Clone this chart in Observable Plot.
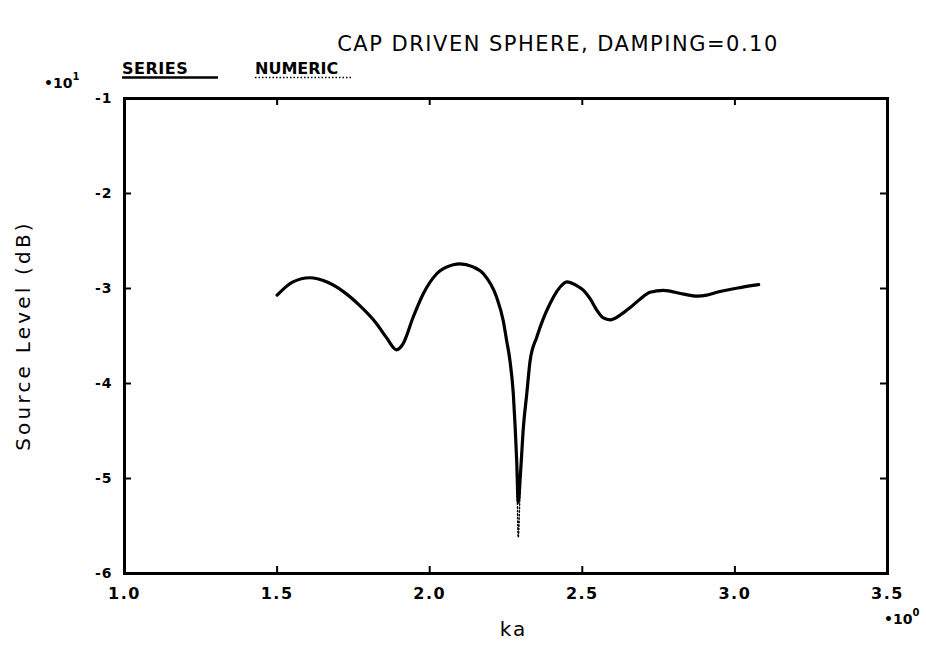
<!DOCTYPE html>
<html>
<head>
<meta charset="utf-8">
<script src="https://cdn.jsdelivr.net/npm/d3@7"></script>
<script src="https://cdn.jsdelivr.net/npm/@observablehq/plot@0.6"></script>
<style>
  html, body { margin: 0; padding: 0; background: #fff; }
  #chart svg { display: block; }
  #chart svg g[aria-label="x-axis tick label"] text { letter-spacing: 1.5px; }
  #chart svg g[aria-label="y-axis tick label"] text { letter-spacing: 1px; }
</style>
</head>
<body>
<div id="chart"></div>
<script>
// ---- data (source level in units of 10 dB, as labeled on the axis) ----
const titleText = "CAP DRIVEN SPHERE, DAMPING=0.10";
const xLabel = "ka";
const yLabel = "Source Level (dB)";
const legendNames = ["SERIES", "NUMERIC"];
const xTicks = [1.0, 1.5, 2.0, 2.5, 3.0, 3.5];
const yTicks = [-1, -2, -3, -4, -5, -6];
const xInnerTicks = [1.5, 2.0, 2.5, 3.0];
const yInnerTicks = [-2, -3, -4, -5];

const ka = [1.500, 1.552, 1.607, 1.662, 1.716, 1.771, 1.826, 1.859, 1.891, 1.913,
            1.946, 1.979, 2.023, 2.077, 2.099, 2.140, 2.176, 2.219, 2.241, 2.252,
            2.263, 2.274, 2.280, 2.285, 2.290, 2.298, 2.307, 2.318, 2.329, 2.351,
            2.394, 2.438, 2.449, 2.482, 2.504, 2.526, 2.548, 2.569, 2.591, 2.624,
            2.657, 2.690, 2.722, 2.766, 2.832, 2.876, 2.908, 2.941, 3.018, 3.078];
const seriesLevel = [-3.07, -2.93, -2.887, -2.93, -3.03, -3.18, -3.37, -3.52, -3.645, -3.58,
            -3.30, -3.055, -2.845, -2.75, -2.74, -2.77, -2.845, -3.09, -3.34, -3.547,
            -3.76, -4.11, -4.46, -4.81, -5.25, -4.92, -4.46, -4.11, -3.76, -3.51,
            -3.16, -2.95, -2.93, -2.97, -3.02, -3.11, -3.23, -3.31, -3.33, -3.28,
            -3.20, -3.11, -3.04, -3.02, -3.06, -3.08, -3.07, -3.04, -2.99, -2.96];
const numericLevel = [-3.07, -2.93, -2.887, -2.93, -3.03, -3.18, -3.37, -3.52, -3.645, -3.58,
            -3.30, -3.055, -2.845, -2.75, -2.74, -2.77, -2.845, -3.09, -3.34, -3.547,
            -3.76, -4.11, -4.46, -4.81, -5.62, -4.92, -4.46, -4.11, -3.76, -3.51,
            -3.16, -2.95, -2.93, -2.97, -3.02, -3.11, -3.23, -3.31, -3.33, -3.28,
            -3.20, -3.11, -3.04, -3.02, -3.06, -3.08, -3.07, -3.04, -2.99, -2.96];

const seriesData = ka.map((k, i) => ({ka: k, level: seriesLevel[i]}));
const numericData = ka.map((k, i) => ({ka: k, level: numericLevel[i]}));

// ---- layout ----
const W = 926, H = 652;
const mTop = 98, mBottom = 79, mLeft = 124, mRight = 39;
const innerW = W - mLeft - mRight, innerH = H - mTop - mBottom;
const tickLen = 7;
const font = "DejaVu Sans, sans-serif";

const chart = Plot.plot({
  width: W, height: H,
  marginTop: mTop, marginBottom: mBottom, marginLeft: mLeft, marginRight: mRight,
  x: {domain: [xTicks[0], xTicks[xTicks.length - 1]]},
  y: {domain: [yTicks[yTicks.length - 1], yTicks[0]]},
  style: {fontFamily: font, background: "#fff", color: "#000", overflow: "visible"},
  marks: [
    Plot.frame({stroke: "#000", strokeWidth: 3}),
    Plot.tickX(xInnerTicks, {x: d => d, insetTop: innerH - tickLen, stroke: "#000", strokeWidth: 2}),
    Plot.tickX(xInnerTicks, {x: d => d, insetBottom: innerH - tickLen, stroke: "#000", strokeWidth: 2}),
    Plot.tickY(yInnerTicks, {y: d => d, insetRight: innerW - tickLen, stroke: "#000", strokeWidth: 2}),
    Plot.tickY(yInnerTicks, {y: d => d, insetLeft: innerW - tickLen, stroke: "#000", strokeWidth: 2}),
    Plot.line(numericData, {x: "ka", y: "level", stroke: "#000", strokeWidth: 1.4, strokeDasharray: "1.5,2", curve: "monotone-x"}),
    Plot.line(seriesData, {x: "ka", y: "level", stroke: "#000", strokeWidth: 3.2, curve: "monotone-x"}),
    Plot.axisX({ticks: xTicks, tickSize: 0, tickPadding: 14, tickFormat: d3.format(".1f"),
      label: null, fontSize: 16, fontWeight: "bold"}),
    Plot.axisY({ticks: yTicks, tickSize: 0, tickPadding: 12, tickFormat: d => String(d),
      label: null, fontSize: 14, fontWeight: "bold"})
  ]
});
document.getElementById("chart").appendChild(chart);

// ---- extra text: title, legend, axis labels, exponents ----
const svg = d3.select(chart);
const g = svg.append("g").attr("font-family", font).attr("fill", "#000").attr("text-anchor", "start");

g.append("text").attr("x", 558).attr("y", 51).attr("text-anchor", "middle")
  .attr("font-size", 21).attr("letter-spacing", 1.5).text(titleText);

// legend
g.append("text").attr("x", 122).attr("y", 74).attr("font-size", 16).attr("font-weight", "bold")
  .attr("letter-spacing", 0.5).text(legendNames[0]);
g.append("line").attr("x1", 122).attr("x2", 218).attr("y1", 77.5).attr("y2", 77.5)
  .attr("stroke", "#000").attr("stroke-width", 2.5);
g.append("text").attr("x", 255).attr("y", 74).attr("font-size", 16).attr("font-weight", "bold")
  .text(legendNames[1]);
g.append("line").attr("x1", 255).attr("x2", 352).attr("y1", 77.5).attr("y2", 77.5)
  .attr("stroke", "#000").attr("stroke-width", 1.5).attr("stroke-dasharray", "1.5,2");

// exponent labels
const e1 = g.append("text").attr("x", 44).attr("y", 88).attr("font-size", 14).attr("font-weight", "bold");
e1.append("tspan").text("•10");
e1.append("tspan").attr("dy", -8).attr("font-size", 10).text("1");
const e0 = g.append("text").attr("x", 884).attr("y", 624).attr("font-size", 14).attr("font-weight", "bold");
e0.append("tspan").text("•10");
e0.append("tspan").attr("dy", -8).attr("font-size", 10).text("0");

// axis labels
g.append("text").attr("x", mLeft + innerW / 2 + 8).attr("y", 636).attr("text-anchor", "middle")
  .attr("font-size", 20).attr("letter-spacing", 2).text(xLabel);
g.append("text").attr("transform", `translate(30,${mTop + innerH / 2}) rotate(-90)`)
  .attr("text-anchor", "middle").attr("font-size", 20).attr("letter-spacing", 3.2).text(yLabel);
</script>
</body>
</html>
